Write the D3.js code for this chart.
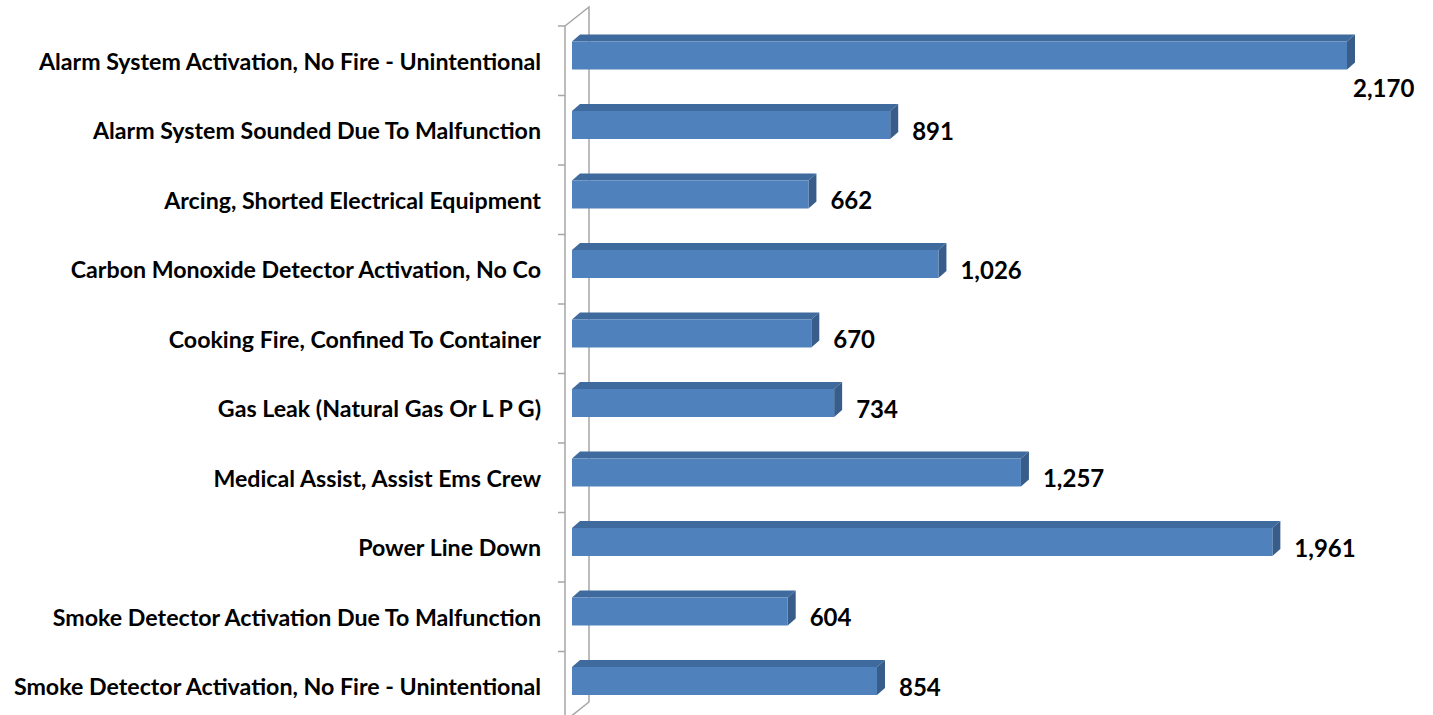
<!DOCTYPE html>
<html><head><meta charset="utf-8">
<script src="https://cdn.jsdelivr.net/npm/d3@7"></script>
<style>html,body{margin:0;padding:0;background:#fff;}svg{display:block;}</style>
</head><body>
<script>
const categories = [
  "Alarm System Activation, No Fire - Unintentional",
  "Alarm System Sounded Due To Malfunction",
  "Arcing, Shorted Electrical Equipment",
  "Carbon Monoxide Detector Activation, No Co",
  "Cooking Fire, Confined To Container",
  "Gas Leak (Natural Gas Or L P G)",
  "Medical Assist, Assist Ems Crew",
  "Power Line Down",
  "Smoke Detector Activation Due To Malfunction",
  "Smoke Detector Activation, No Fire - Unintentional"
];
const values = [2170, 891, 662, 1026, 670, 734, 1257, 1961, 604, 854];

(function(){
const W = 1433, H = 715;
const svg = d3.select("body").append("svg").attr("width", W).attr("height", H);

const y = d3.scaleBand().domain(categories).range([26, 26 + 69.5 * 10]).padding(0);
const x = d3.scaleLinear().domain([0, 2170]).range([572, 1347]);
const dx = 8, dy = 7;
const axisX = 565, wallDX = 24, wallDY = 19;

const g = svg.append("g");
const yTop = y.range()[0], yBot = y.range()[1];
g.append("path")
  .attr("d", `M${axisX},${yTop}L${axisX + wallDX},${yTop - wallDY}L${axisX + wallDX},${yBot - wallDY}L${axisX},${yBot}Z`)
  .attr("fill", "none").attr("stroke", "#a6a6a6").attr("stroke-width", 1.5);
const tickYs = categories.map(c => y(c)).concat([yBot]);
g.selectAll("line.tick").data(tickYs).join("line")
  .attr("x1", axisX - 7).attr("x2", axisX).attr("y1", d => d).attr("y2", d => d)
  .attr("stroke", "#a6a6a6").attr("stroke-width", 1.5);

const bars = svg.append("g").selectAll("g").data(categories.map((c, i) => ({c, v: values[i]}))).join("g");
const yT = d => y(d.c) + 15.5, yB = d => y(d.c) + 43.5;
bars.append("path").attr("fill", "#3f6a9d")
  .attr("d", d => `M${x(0)},${yT(d)}L${x(0) + dx},${yT(d) - dy}L${x(d.v) + dx},${yT(d) - dy}L${x(d.v)},${yT(d)}Z`);
bars.append("path").attr("fill", "#385d8a")
  .attr("d", d => `M${x(d.v)},${yT(d)}L${x(d.v) + dx},${yT(d) - dy}L${x(d.v) + dx},${yB(d) - dy}L${x(d.v)},${yB(d)}Z`);
bars.append("rect").attr("fill", "#4f81bd")
  .attr("x", x(0)).attr("y", yT).attr("width", d => x(d.v) - x(0)).attr("height", d => yB(d) - yT(d));

const fmt = d3.format(",");
bars.append("text")
  .attr("font-family", "Lato, 'Open Sans', sans-serif").attr("font-weight", "bold").attr("font-size", 24)
  .attr("fill", "#000").attr("dominant-baseline", "central")
  .text(d => fmt(d.v))
  .each(function(d) {
    const t = d3.select(this);
    const w = this.getComputedTextLength();
    let lx = x(d.v) + 22, ly = y(d.c) + y.bandwidth() / 2;
    if (lx + w > W - 5) { lx = x(d.v) + 6; ly = yB(d) + 18; }
    t.attr("x", lx).attr("y", ly);
  });

svg.append("g").selectAll("text").data(categories).join("text")
  .attr("x", 541).attr("y", d => y(d) + y.bandwidth() / 2)
  .attr("text-anchor", "end").attr("dominant-baseline", "central")
  .attr("font-family", "Lato, 'Open Sans', sans-serif").attr("font-weight", "bold").attr("font-size", 23.2)
  .attr("fill", "#000")
  .text(d => d);
})();
</script>
</body></html>
